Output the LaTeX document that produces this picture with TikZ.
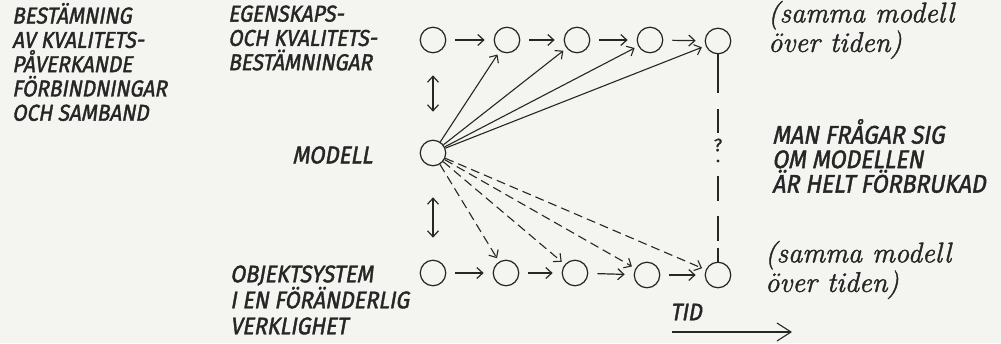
\documentclass[tikz,border=0pt]{standalone}
\usepackage{fontspec}
\newfontfamily\handcaps[FakeSlant=0.18,FakeStretch=0.9,FakeBold=1.6]{Fira Sans}
\newfontfamily\handplain[FakeBold=1]{Fira Sans}
\newfontfamily\handscript[FakeBold=1.4]{Latin Modern Roman}
\usetikzlibrary{arrows.meta}
\definecolor{ink}{RGB}{38,38,38}
\definecolor{paper}{RGB}{244,244,241}
\tikzset{
  st/.style={circle,draw=ink,line width=1.2pt,minimum size=25.5pt,inner sep=0pt},
  capslbl/.style={font=\handcaps\fontsize{23}{24.3}\selectfont,text=ink,align=left,anchor=west,inner sep=0pt},
  scriptlbl/.style={font=\handscript\itshape\fontsize{28.5}{25}\selectfont,text=ink,align=left,anchor=west,inner sep=0pt},
  tip/.style={-{Straight Barb[length=6pt,width=11pt]}},
  flow/.style={draw=ink,line width=1.2pt,tip,shorten <=9pt,shorten >=9pt},
  ray/.style={draw=ink,line width=1.1pt,tip,shorten >=4pt},
  dray/.style={ray,dash pattern=on 9pt off 5pt},
  dbl/.style={draw=ink,line width=1.2pt,{Straight Barb[length=6pt,width=11pt]}-{Straight Barb[length=6pt,width=11pt]}},
}
\begin{document}
\begin{tikzpicture}[x=1pt,y=-1pt]
\fill[paper] (0,0) rectangle (1001,343);
\useasboundingbox (0,0) rectangle (1001,343);

% state circles
\node[st] (t1) at (433,40) {};
\node[st] (t2) at (507,40) {};
\node[st] (t3) at (577,40) {};
\node[st] (t4) at (650,40) {};
\node[st] (t5) at (718,41) {};
\node[st] (m)  at (433,153) {};
\node[st] (b1) at (433,273) {};
\node[st] (b2) at (506,273) {};
\node[st] (b3) at (575,273) {};
\node[st] (b4) at (647,275) {};
\node[st] (b5) at (718,275) {};

% flows along time
\draw[flow] (t1) -- (t2);
\draw[flow] (t2) -- (t3);
\draw[flow] (t3) -- (t4);
\draw[flow] (t4) -- (t5);
\draw[flow] (b1) -- (b2);
\draw[flow] (b2) -- (b3);
\draw[flow] (b3) -- (b4);
\draw[flow] (b4) -- (b5);

% double arrows
\draw[dbl,shorten <=22pt,shorten >=28pt] (t1) -- (m);
\draw[dbl,shorten <=31pt,shorten >=22pt] (m) -- (b1);

% rays from model
\draw[ray] (m) -- (t2);
\draw[ray] (m) -- (t3);
\draw[ray] (m) -- (t4);
\draw[ray] (m) -- (t5);
\draw[dray] (m) -- (b2);
\draw[dray] (m) -- (b3);
\draw[dray] (m) -- (b4);
\draw[dray] (m) -- (b5);

% vertical questioning line
\draw[draw=ink,line width=1.2pt,dash pattern=on 39pt off 16pt on 24pt off 43pt on 25pt off 15pt on 25pt off 7pt on 20pt] (t5) -- (b5);
\node[text=ink,font=\handplain\fontsize{18}{18}\selectfont,inner sep=0pt] (q) at (718,145) {?};
\node[circle,fill=ink,inner sep=0pt,minimum size=3.4pt] (qd) at (718,161) {};

% labels
\node[capslbl] (lbest) at (12,62) {BESTÄMNING\\AV KVALITETS-\\PÅVERKANDE\\FÖRBINDNINGAR\\OCH SAMBAND};
\node[capslbl] (legen) at (228,38) {EGENSKAPS-\\OCH KVALITETS-\\BESTÄMNINGAR};
\node[capslbl,font=\handcaps\fontsize{24.5}{24}\selectfont] (lmod) at (292,155) {MODELL};
\node[capslbl,font=\handcaps\fontsize{24}{26}\selectfont] (lobj) at (230,300) {OBJEKTSYSTEM\\I EN FÖRÄNDERLIG\\VERKLIGHET};
\node[scriptlbl] (rtop) at (768,30) {(samma modell\\över tiden)};
\node[capslbl,font=\handcaps\fontsize{25.5}{24.5}\selectfont] (rman) at (772,156) {MAN FRÅGAR SIG\\OM MODELLEN\\ÄR HELT FÖRBRUKAD};
\node[scriptlbl] (rbot) at (765,270) {(samma modell\\över tiden)};
\node[capslbl,anchor=center,font=\handcaps\fontsize{24}{24}\selectfont] (tid) at (686,312) {TID};

% time arrow
\coordinate (ta) at (672,332);
\coordinate (tb) at (792,332);
\draw[draw=ink,line width=1.1pt,-{Straight Barb[length=14pt,width=18pt]}] (ta) -- (tb);
\end{tikzpicture}
\end{document}
